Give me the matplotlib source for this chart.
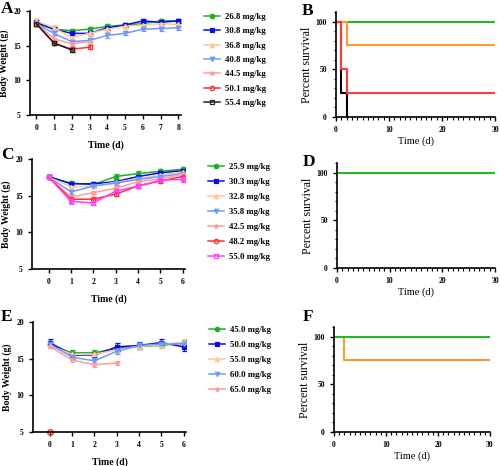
import matplotlib.pyplot as plt
from matplotlib.lines import Line2D
import numpy as np

plt.rcParams['font.family'] = ['Liberation Serif', 'DejaVu Serif']

# ---- panel A : body weight ----
a_days = [0, 1, 2, 3, 4, 5, 6, 7, 8]
a_labels = ['26.8 mg/kg', '30.8 mg/kg', '36.8 mg/kg', '40.8 mg/kg',
            '44.5 mg/kg', '50.1 mg/kg', '55.4 mg/kg']
a_vals = [
    [18.2, 17.4, 17.2, 17.4, 17.8, 18.0, 18.2, 18.6, 18.6],
    [18.4, 17.4, 16.8, 16.8, 17.6, 18.0, 18.6, 18.4, 18.6],
    [18.6, 17.6, 16.2, 16.8, 17.4, 17.8, 18.0, 18.2, 18.1],
    [18.2, 16.8, 15.6, 15.8, 16.5, 16.8, 17.4, 17.5, 17.6],
    [18.3, 16.0, 15.3, 15.6],
    [18.2, 15.4, 14.5, 14.8],
    [18.2, 15.4, 14.4],
]
a_err = [0.3, 0.3, 0.35, 0.3, 0.35, 0.3, 0.3]

# ---- panel C : body weight ----
c_days = [0, 1, 2, 3, 4, 5, 6]
c_labels = ['25.9 mg/kg', '30.3 mg/kg', '32.8 mg/kg', '35.8 mg/kg',
            '42.5 mg/kg', '48.2 mg/kg', '55.0 mg/kg']
c_vals = [
    [17.5, 16.7, 16.5, 17.6, 18.0, 18.3, 18.6],
    [17.6, 16.6, 16.6, 16.9, 17.6, 18.1, 18.4],
    [17.5, 16.2, 16.3, 16.8, 17.3, 17.8, 18.2],
    [17.5, 15.5, 16.3, 16.7, 17.2, 17.6, 18.0],
    [17.5, 14.8, 15.4, 16.0, 16.9, 17.3, 17.9],
    [17.5, 14.5, 14.5, 15.2, 16.3, 17.0, 17.6],
    [17.5, 14.2, 14.0, 15.6, 16.3, 17.1, 17.2],
]
c_err = [0.3, 0.25, 0.3, 0.3, 0.25, 0.3, 0.3]

# ---- panel E : body weight ----
e_days = [0, 1, 2, 3, 4, 5, 6]
e_labels = ['45.0 mg/kg', '50.0 mg/kg', '55.0 mg/kg', '60.0 mg/kg', '65.0 mg/kg']
e_vals = [
    [16.9, 15.8, 15.8, 16.4, 16.7, 16.8, 17.2],
    [17.2, 15.5, 15.5, 16.6, 16.8, 17.2, 16.6],
    [16.8, 15.6, 15.6, 16.2, 16.7, 16.9, 17.3],
    [17.0, 15.2, 14.7, 16.0, 16.8, 17.0, 17.0],
    [16.7, 14.8, 14.2, 14.4],
]
e_err = [0.4, 0.5, 0.4, 0.4, 0.3]
e_extra_day = [0]
e_extra_val = [5.0]

# ---- survival ----
b_steps = {
    'green': ([0, 30], [100, 100]),
    'orange': ([0, 2, 2, 30], [100, 100, 75, 75]),
    'black': ([0, 1, 1, 2, 2], [100, 100, 25, 25, 0]),
    'red': ([0, 1, 1, 2, 2, 30], [100, 100, 50, 50, 25, 25]),
}
d_steps = {
    'green': ([0, 30], [100, 100]),
}
f_steps = {
    'orange': ([0, 2, 2, 30], [100, 100, 75, 75]),
    'green': ([0, 30], [100, 100]),
}

styles = [
    dict(color='#1DB31D', marker='o', mfc='#1DB31D'),
    dict(color='#0A0AF0', marker='s', mfc='#0A0AF0'),
    dict(color='#FFC896', marker='^', mfc='#FFC896'),
    dict(color='#6E9BFF', marker='v', mfc='#6E9BFF'),
    dict(color='#FF9C9C', marker='*', mfc='#FF9C9C'),
    dict(color='#FF3030', marker='o', mfc='none'),
    dict(color='#222222', marker='s', mfc='none'),
]
magenta = dict(color='#FF40FF', marker='s', mfc='none')
surv_col = {'green': '#22BB22', 'orange': '#FF9A30', 'red': '#FF3A3A', 'black': 'black'}

fig = plt.figure(figsize=(5, 4.66), dpi=100)


def weight_panel(rect, days, vals, err, labels, stys, xmax, leg_y, spacing, extra=None):
    ax = fig.add_axes(rect)
    handles = []
    for i, v in enumerate(vals):
        st = stys[i]
        ax.errorbar(days[:len(v)], v, yerr=err[i], color=st['color'], marker=st['marker'],
                    mfc=st['mfc'], mec=st['color'], ms=3.2, lw=1.1, elinewidth=0.9,
                    capsize=1.8, capthick=0.9, mew=0.9)
        handles.append(Line2D([], [], color=st['color'], marker=st['marker'], mfc=st['mfc'],
                              mec=st['color'], ms=3.2, lw=1.1, mew=0.9, label=labels[i]))
    if extra is not None:
        ax.plot(extra[0], extra[1], marker='o', mfc='none', mec='#FF3030', ms=4,
                mew=1.0, ls='none', clip_on=False)
    ax.set_xlim(-0.35 if xmax > 7 else -0.75, xmax)
    ax.set_ylim(5, 20)
    ax.set_xticks(days)
    ax.set_yticks([5, 10, 15, 20])
    for s in ['top', 'right']:
        ax.spines[s].set_visible(False)
    for s in ['left', 'bottom']:
        ax.spines[s].set_linewidth(1.2)
    ax.tick_params(labelsize=5.5, width=1.0, length=3)
    for t in ax.get_xticklabels() + ax.get_yticklabels():
        t.set_fontweight('bold')
    ax.set_xlabel('Time (d)', fontsize=7, fontweight='bold', labelpad=6)
    ax.set_ylabel('Body Weight (g)', fontsize=7, fontweight='bold', labelpad=3)
    ax.legend(handles=handles, loc='upper left', bbox_to_anchor=(1.13, leg_y), frameon=False,
              prop={'size': 6.3, 'weight': 'bold'}, handlelength=1.8,
              labelspacing=spacing, borderaxespad=0, handletextpad=0.6)
    return ax


def surv_panel(rect, steps):
    ax = fig.add_axes(rect)
    for k, (xs, ys) in steps.items():
        ax.plot(xs, ys, color=surv_col[k], lw=1.5, clip_on=False, solid_capstyle='butt')
    ax.set_xlim(0, 30)
    ax.set_ylim(0, 110)
    ax.set_xticks([0, 10, 20, 30])
    ax.set_xticks(np.arange(0, 31, 1), minor=True)
    ax.set_yticks([0, 50, 100])
    ax.set_yticks(np.arange(0, 111, 10), minor=True)
    for s in ['top', 'right']:
        ax.spines[s].set_visible(False)
    for s in ['left', 'bottom']:
        ax.spines[s].set_linewidth(1.2)
    ax.tick_params(labelsize=5.5, width=1.0, length=3)
    ax.tick_params(which='minor', width=0.8, length=1.8)
    for t in ax.get_xticklabels() + ax.get_yticklabels():
        t.set_fontweight('bold')
    ax.set_xlabel('Time (d)', fontsize=7.5, labelpad=2)
    ax.set_ylabel('Percent survival', fontsize=8.5, labelpad=2)
    return ax


weight_panel([0.060, 0.753, 0.302, 0.223], a_days, a_vals, a_err, a_labels, styles, 8.15,
             1.02, 0.72)
weight_panel([0.064, 0.423, 0.306, 0.236], c_days, c_vals, c_err, c_labels,
             styles[:6] + [magenta], 6.1, 0.995, 0.78)
weight_panel([0.066, 0.073, 0.306, 0.236], e_days, e_vals, e_err, e_labels, styles, 6.1, 0.995,
             0.78, extra=(e_extra_day, e_extra_val))

surv_panel([0.672, 0.749, 0.318, 0.225], b_steps)
surv_panel([0.674, 0.425, 0.316, 0.225], d_steps)
surv_panel([0.668, 0.073, 0.312, 0.225], f_steps)

for lab, x, y in [('A', 0.002, 0.998), ('B', 0.604, 0.993), ('C', 0.002, 0.685),
                  ('D', 0.606, 0.670), ('E', 0.002, 0.337), ('F', 0.606, 0.337)]:
    fig.text(x, y, lab, fontsize=12.5, fontweight='bold', va='top', ha='left')

fig.savefig('out.png', dpi=100)
